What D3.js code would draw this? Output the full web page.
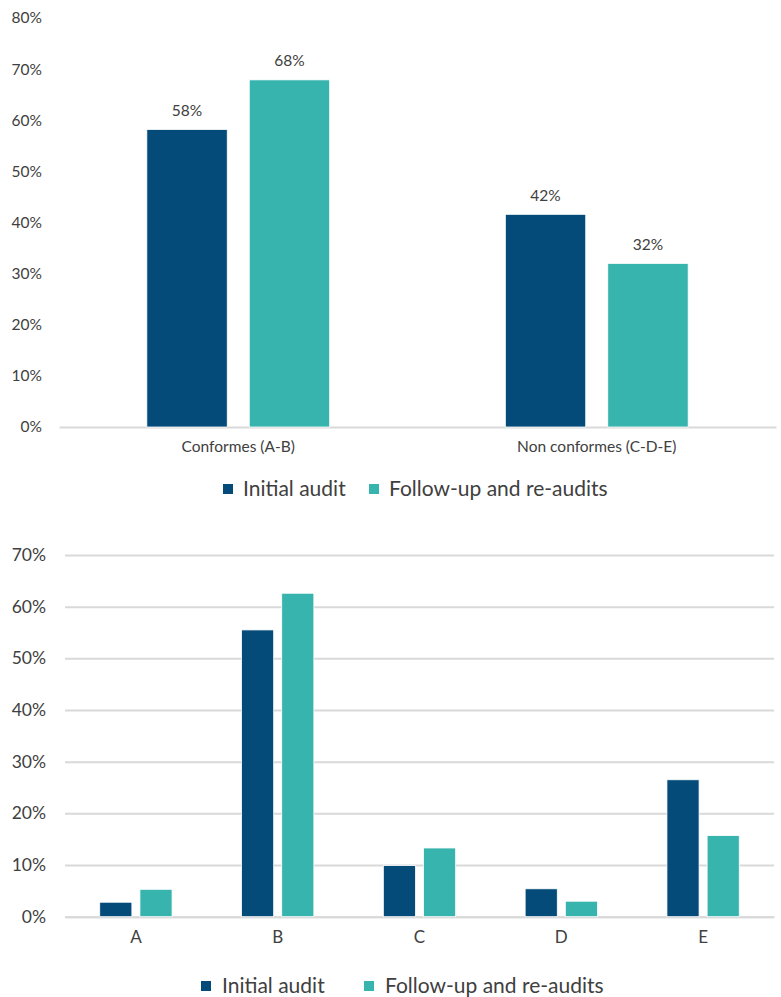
<!DOCTYPE html>
<html><head><meta charset="utf-8">
<script src="https://cdn.jsdelivr.net/npm/d3@7"></script>
<style>
body{margin:0;background:#fff;}
text{font-family:Lato, "Open Sans", sans-serif;fill:#404040;}
</style></head>
<body>
<svg id="c" width="781" height="997"></svg>
<script>
const seriesNames = ["Initial audit", "Follow-up and re-audits"];
const seriesColors = ["#044B79", "#38B4AE"];

const topCategories = ["Conformes (A-B)", "Non conformes (C-D-E)"];
const topInitial = [58.2, 41.6];
const topFollow = [67.9, 32.0];
const topTicks = [0, 10, 20, 30, 40, 50, 60, 70, 80];

const bottomCategories = ["A", "B", "C", "D", "E"];
const bottomInitial = [2.8, 55.5, 9.9, 5.4, 26.5];
const bottomFollow = [5.3, 62.6, 13.3, 3.0, 15.7];
const bottomTicks = [0, 10, 20, 30, 40, 50, 60, 70];

const svg = d3.select("#c");

function drawChart(opt) {
  const g = svg.append("g");
  const y = d3.scaleLinear().domain([0, opt.max]).range([opt.y0, opt.y1]);
  const x0 = d3.scaleBand().domain(opt.cats).range([opt.xl, opt.xr]).paddingInner(0.49).paddingOuter(0.245);
  const x1 = d3.scaleBand().domain([0, 1]).range([0, x0.bandwidth()]).paddingInner(opt.inner);

  // y axis
  const ya = d3.axisLeft(y).tickValues(opt.ticks).tickFormat(d => d + "%")
    .tickSize(opt.grid ? -(opt.xr - opt.xl) : 0).tickPadding(opt.tickPad);
  const yg = g.append("g").attr("transform", `translate(${opt.xl},0)`).call(ya);
  yg.select(".domain").remove();
  yg.selectAll("line").attr("stroke", "#d9d9d9").attr("stroke-width", 2);
  yg.selectAll("text").style("font-size", opt.tickFont + "px").attr("fill", "#404040")
    .style("font-family", "Lato, sans-serif");

  // x axis
  const xa = d3.axisBottom(x0).tickSize(0).tickSizeOuter(0).tickPadding(opt.catPad);
  const xg = g.append("g").attr("transform", `translate(0,${opt.y0})`).call(xa);
  xg.select(".domain").attr("stroke", "#d9d9d9").attr("stroke-width", 2);
  xg.selectAll("text").style("font-size", opt.catFont + "px").attr("fill", "#404040")
    .style("font-family", "Lato, sans-serif");

  const data = opt.cats.map((c, i) => ({ c, vals: [opt.s0[i], opt.s1[i]] }));
  const grp = g.append("g").selectAll("g").data(data).join("g")
    .attr("transform", d => `translate(${x0(d.c)},0)`);
  grp.selectAll("rect").data(d => d.vals.map((v, k) => ({ v, k }))).join("rect")
    .attr("x", d => x1(d.k)).attr("width", x1.bandwidth())
    .attr("y", d => y(d.v)).attr("height", d => y(0) - y(d.v))
    .attr("fill", d => seriesColors[d.k])
    .attr("stroke", "#ffffff").attr("stroke-width", 0.8);
  if (opt.labels) {
    grp.selectAll("text.lab").data(d => d.vals.map((v, k) => ({ v, k }))).join("text")
      .attr("class", "lab")
      .attr("x", d => x1(d.k) + x1.bandwidth() / 2)
      .attr("y", d => y(d.v) - 19).attr("dy", "0.35em")
      .attr("text-anchor", "middle").style("font-size", opt.tickFont + "px")
      .text(d => Math.round(d.v) + "%");
  }

  // legend
  const lg = g.append("g");
  opt.legendX.forEach((lx, k) => {
    lg.append("rect").attr("x", lx).attr("y", opt.legendY - 5).attr("width", 10).attr("height", 10)
      .attr("fill", seriesColors[k]);
    lg.append("text").attr("x", lx + opt.legendTextGap).attr("y", opt.legendY).attr("dy", "0.35em")
      .style("font-size", opt.legendFont + "px").text(seriesNames[k]);
  });
}

drawChart({
  cats: topCategories, s0: topInitial, s1: topFollow, max: 80, ticks: topTicks,
  y0: 427, y1: 18, xl: 59, xr: 776, inner: 0.215, grid: false, tickPad: 17,
  tickFont: 15.5, catFont: 15.5, catPad: 14, labels: true,
  legendX: [223, 369], legendY: 489, legendTextGap: 20, legendFont: 21
});

drawChart({
  cats: bottomCategories, s0: bottomInitial, s1: bottomFollow, max: 70, ticks: bottomTicks,
  y0: 916.7, y1: 555, xl: 65, xr: 774, inner: 0.2, grid: true, tickPad: 19,
  tickFont: 17.5, catFont: 17, catPad: 14, labels: false,
  legendX: [201, 364], legendY: 986, legendTextGap: 21, legendFont: 21
});
</script>
</body></html>
